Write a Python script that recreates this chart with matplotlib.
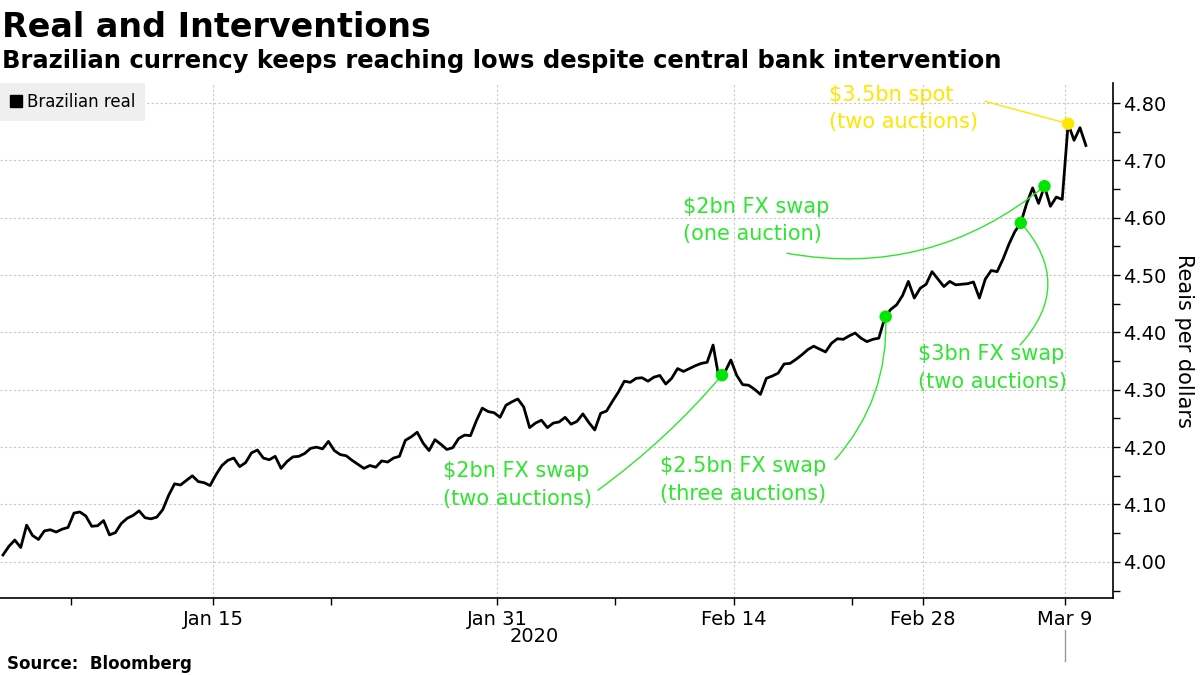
import numpy as np
import pandas as pd
import matplotlib
matplotlib.use('Agg')
import matplotlib.pyplot as plt
from matplotlib.lines import Line2D
from matplotlib.ticker import MultipleLocator, FormatStrFormatter

# trading calendar (Brazilian carnival Feb 24-25 has no trading)
carnival = pd.to_datetime(['2020-02-24', '2020-02-25'])
trading_days = pd.bdate_range('2020-01-02', '2020-03-09')
trading_days = trading_days[~trading_days.isin(carnival)]
sample_hours = [3, 9, 15, 21]

# USD/BRL, four readings per trading day
brl = [
    4.012, 4.027, 4.038, 4.025,  # Jan 2
    4.064, 4.046, 4.039, 4.054,
    4.056, 4.052, 4.057, 4.060,
    4.085, 4.087, 4.080, 4.062,
    4.063, 4.072, 4.047, 4.051,
    4.067, 4.076, 4.081, 4.089,
    4.077, 4.075, 4.078, 4.091,
    4.116, 4.136, 4.134, 4.142,
    4.150, 4.140, 4.138, 4.133,
    4.152, 4.168, 4.177, 4.181,  # Jan 15
    4.166, 4.173, 4.190, 4.195,
    4.181, 4.178, 4.184, 4.163,
    4.175, 4.183, 4.184, 4.189,
    4.198, 4.200, 4.197, 4.210,
    4.194, 4.187, 4.185, 4.177,
    4.170, 4.163, 4.168, 4.165,
    4.176, 4.174, 4.181, 4.184,
    4.212, 4.218, 4.226, 4.207,
    4.194, 4.213, 4.205, 4.196,
    4.199, 4.215, 4.221, 4.220,
    4.246, 4.268, 4.262, 4.260,
    4.252, 4.273, 4.279, 4.284,  # Jan 31
    4.270, 4.234, 4.242, 4.247,
    4.234, 4.242, 4.244, 4.252,
    4.240, 4.245, 4.258, 4.243,
    4.230, 4.259, 4.263, 4.280,
    4.296, 4.315, 4.313, 4.320,
    4.321, 4.315, 4.322, 4.325,
    4.310, 4.320, 4.337, 4.332,
    4.337, 4.342, 4.346, 4.348,
    4.378, 4.320, 4.331, 4.352,  # Feb 13
    4.325, 4.309, 4.308, 4.301,
    4.292, 4.320, 4.324, 4.329,
    4.345, 4.346, 4.353, 4.361,
    4.370, 4.376, 4.371, 4.366,
    4.381, 4.389, 4.388, 4.394,
    4.399, 4.390, 4.384, 4.388,
    4.390, 4.425, 4.440, 4.448,  # Feb 26
    4.464, 4.489, 4.460, 4.477,
    4.484, 4.506, 4.493, 4.480,
    4.489, 4.483, 4.484, 4.485,
    4.488, 4.460, 4.493, 4.508,
    4.506, 4.528, 4.554, 4.576,
    4.591, 4.625, 4.652, 4.625,
    4.655, 4.620, 4.636, 4.632,
    4.764, 4.735, 4.757, 4.726,  # Mar 9
]

# central bank interventions
event_times = ['2020-02-13 12:00', '2020-02-26 10:00', '2020-03-05 03:00',
               '2020-03-06 03:00', '2020-03-09 03:00']
event_labels = ['$2bn FX swap\n(two auctions)', '$2.5bn FX swap\n(three auctions)',
                '$3bn FX swap\n(two auctions)', '$2bn FX swap\n(one auction)',
                '$3.5bn spot\n(two auctions)']

tick_dates = ['2020-01-15', '2020-01-31', '2020-02-14', '2020-02-28', '2020-03-09']
tick_labels = ['Jan 15', 'Jan 31', 'Feb 14', 'Feb 28', 'Mar 9']
minor_dates = ['2020-01-07', '2020-01-22', '2020-02-07', '2020-02-21']

GREEN = '#2ee62e'
DOT_GREEN = '#00e600'
YELLOW = '#ffe600'

hol = carnival.values.astype('datetime64[D]')


def to_x(ts):
    # position on a trading-day axis (weekends and carnival removed)
    ts = pd.Timestamp(ts)
    day = np.busday_count(np.datetime64('2020-01-02'), np.datetime64(ts.date()), holidays=hol)
    return day + (ts - ts.normalize()) / pd.Timedelta(hours=24)


xs = np.array([to_x(d + pd.Timedelta(hours=h)) for d in trading_days for h in sample_hours])
ys = np.array(brl)

fig = plt.figure(figsize=(12, 6.75), dpi=100)
ax = fig.add_axes([0.0, 0.1141, 0.9275, 0.763])

ax.plot(xs, ys, color='black', lw=2, zorder=3)

ax.set_xlim(0, 47.02)
ax.set_ylim(3.937, 4.835)

# axes styling
for s in ['left', 'top']:
    ax.spines[s].set_visible(False)
ax.spines['right'].set_linewidth(1.2)
ax.spines['bottom'].set_linewidth(1.2)
ax.yaxis.tick_right()
ax.yaxis.set_label_position('right')
ax.yaxis.set_major_locator(MultipleLocator(0.1))
ax.yaxis.set_minor_locator(MultipleLocator(0.05))
ax.yaxis.set_major_formatter(FormatStrFormatter('%.2f'))
ax.set_xticks([to_x(d) for d in tick_dates])
ax.set_xticklabels(tick_labels)
ax.set_xticks([to_x(d) for d in minor_dates], minor=True)
ax.tick_params(axis='both', which='both', direction='out', length=5, width=1, labelsize=14, colors='black')
ax.tick_params(axis='y', pad=2)
ax.tick_params(axis='x', pad=4)
ax.grid(True, which='major', color='#c8c8c8', linestyle=(0, (2, 2)), linewidth=0.8)
ax.set_axisbelow(True)
ax.set_ylabel('Reais per dollars', rotation=270, fontsize=15, labelpad=20)

# year label and separator
ax.text(to_x('2020-01-31') + 1.55, -0.075, '2020', transform=ax.get_xaxis_transform(),
        ha='center', va='center', fontsize=14)
ax.plot([to_x('2020-03-09')] * 2, [-0.062, -0.122], transform=ax.get_xaxis_transform(),
        color='#999999', lw=1, clip_on=False)

# legend
handle = Line2D([], [], marker='s', color='black', linestyle='none', markersize=8)
leg = ax.legend([handle], ['Brazilian real'], loc='upper left', bbox_to_anchor=(0, 1),
                borderaxespad=0, frameon=True, fancybox=False, facecolor='#efefef',
                edgecolor='none', fontsize=12, handlelength=0.7, handletextpad=0.3,
                borderpad=0.6)
leg.get_frame().set_alpha(1)

# intervention markers and labels
ex = np.array([to_x(t) for t in event_times])
ey = np.interp(ex, xs, ys)
colors = [DOT_GREEN, DOT_GREEN, DOT_GREEN, DOT_GREEN, YELLOW]
text_colors = [GREEN, GREEN, GREEN, GREEN, YELLOW]
text_pos = [(18.72, 4.175), (27.88, 4.184), (38.78, 4.379), (28.86, 4.637), (35.02, 4.832)]
line_start = [(25.26, 4.125), (35.28, 4.178), (43.09, 4.378), (33.25, 4.538), (41.61, 4.803)]
rads = [0.06, 0.2, 0.45, 0.23, 0.0]

for i in range(len(ex)):
    ax.text(text_pos[i][0], text_pos[i][1], event_labels[i], color=text_colors[i],
            fontsize=15, va='top', ha='left', linespacing=1.45, zorder=5)
    ax.annotate('', xy=(ex[i], ey[i]), xytext=line_start[i],
                arrowprops=dict(arrowstyle='-', color=text_colors[i], lw=1,
                                shrinkA=0, shrinkB=0,
                                connectionstyle='arc3,rad=%s' % rads[i]), zorder=4)
ax.scatter(ex, ey, s=80, c=colors, zorder=6, linewidths=0)

# titles
fig.text(0.002, 0.945, 'Real and Interventions', fontsize=24, weight='bold', va='baseline')
fig.text(0.002, 0.899, 'Brazilian currency keeps reaching lows despite central bank intervention',
         fontsize=17.5, weight='bold', va='baseline')
fig.text(0.006, 0.009, 'Source:  Bloomberg', fontsize=12, weight='bold', va='baseline')

fig.savefig('out.png', dpi=100)
